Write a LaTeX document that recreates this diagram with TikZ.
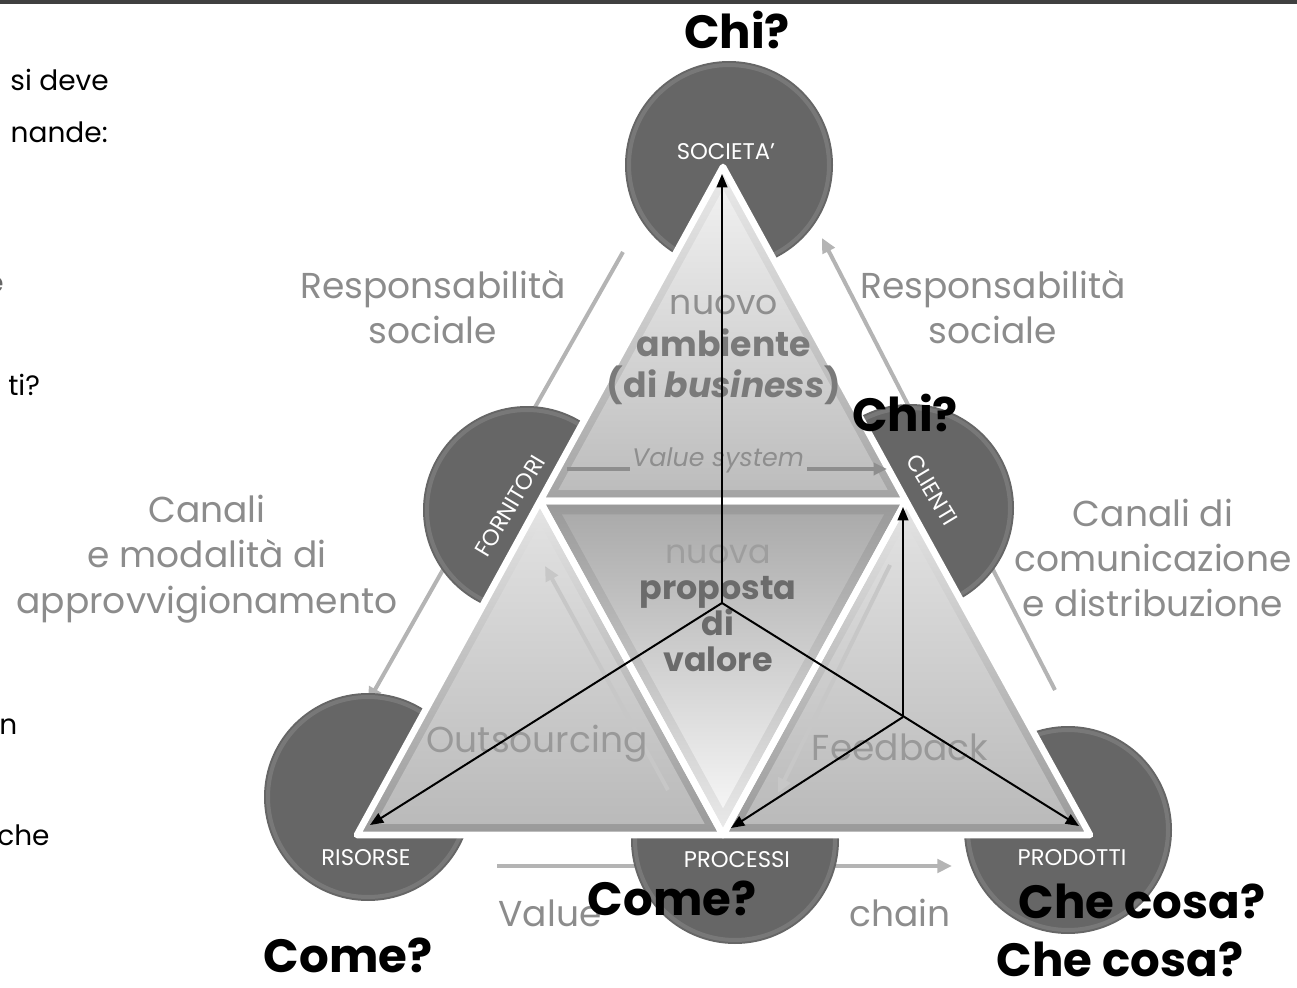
\documentclass[tikz,border=0pt]{standalone}
\usepackage{fontspec}
\setmainfont{Poppins}
\usetikzlibrary{arrows.meta}
\definecolor{discgray}{HTML}{666666}
\definecolor{lblgray}{HTML}{8C8C8C}
\definecolor{linkgray}{HTML}{B4B4B4}
\definecolor{sysgray}{HTML}{8E8E8E}
\definecolor{topbar}{HTML}{404040}
\begin{document}
\begin{tikzpicture}[x=0.75pt,y=-0.75pt,
  disc/.style={fill=discgray},
  discrim/.style={draw=white, draw opacity=0.12, line width=3pt},
  disclabel/.style={text=white, font=\fontsize{17}{20}\selectfont, inner sep=0pt},
  graylbl/.style={text=lblgray, font=\fontsize{27}{34}\selectfont, align=center, inner sep=0pt},
  innerlbl/.style={text=black!42, font=\fontsize{27}{27}\selectfont, inner sep=0pt},
  asklbl/.style={text=black, font=\fontsize{35}{40}\selectfont\bfseries, inner sep=0pt},
  sidetxt/.style={text=black, font=\fontsize{21}{24}\selectfont, inner sep=0pt},
  link/.style={draw=linkgray, line width=3pt, -{Triangle[length=11pt,width=10pt]}},
  flow/.style={draw=black, line width=1.5pt, -{Triangle[length=10pt,width=8pt]}},
  seam/.style={draw=white, line width=5pt, line join=round},
]
\clip (0,0) rectangle (1297,988);
\useasboundingbox (0,0) rectangle (1297,988);

% dark band along the top edge
\fill[topbar] (0,0) rectangle (1297,4);

% fragments of the text column on the left
\node[sidetxt, anchor=east] (q1) at (109,80) {si deve};
\node[sidetxt, anchor=east] (q2) at (108,132) {nande:};
\node[sidetxt, anchor=east, text=black!60] (q3) at (4,285) {e};
\node[sidetxt, anchor=west] (q4) at (8,385) {ti?};
\node[sidetxt, anchor=west] (q5) at (-1,727) {n};
\node[sidetxt, anchor=west] (q6) at (-3,835) {che};

% long grey links running behind the discs
\coordinate (g1s) at (623,252);
\coordinate (g1e) at (368,702);
\coordinate (g2s) at (1055,690);
\coordinate (g2e) at (822,238);
\coordinate (g3s) at (497,866);
\coordinate (g3e) at (952,866);
\draw[link] (g1s) -- (g1e);
\draw[link] (g2s) -- (g2e);
\draw[link] (g3s) -- (g3e);

% the six discs
\foreach \cx/\cy in {729/165, 527/510, 910/508, 368/797, 735/840, 1068/830}{
  \fill[disc] (\cx,\cy) circle[radius=104];
  \draw[discrim] (\cx,\cy) circle[radius=100];
}

% four triangles: outer fill, inner bevel fill, white seams
% top: nuovo ambiente
\shade[top color=black!8, bottom color=black!36] (723,167) -- (540,501) -- (906,501) -- cycle;
\shade[top color=black!6, bottom color=black!26, scale around={0.9:(723,390)}] (723,167) -- (540,501) -- (906,501) -- cycle;
% centre: nuova proposta di valore
\shade[top color=black!40, bottom color=black!8] (540,501) -- (906,501) -- (723,835) -- cycle;
\shade[top color=black!33, bottom color=black!4, scale around={0.88:(723,612)}] (540,501) -- (906,501) -- (723,835) -- cycle;
% bottom left: outsourcing
\shade[top color=black!10, bottom color=black!40] (540,501) -- (357,835) -- (723,835) -- cycle;
\shade[top color=black!12, bottom color=black!27, scale around={0.9:(540,724)}] (540,501) -- (357,835) -- (723,835) -- cycle;
% bottom right: feedback
\shade[top color=black!10, bottom color=black!40] (906,501) -- (723,835) -- (1090,835) -- cycle;
\shade[top color=black!12, bottom color=black!27, scale around={0.9:(906,724)}] (906,501) -- (723,835) -- (1090,835) -- cycle;
\draw[seam] (723,167) -- (540,501) -- (906,501) -- cycle;
\draw[seam] (540,501) -- (906,501) -- (723,835) -- cycle;
\draw[seam] (540,501) -- (357,835) -- (723,835) -- cycle;
\draw[seam] (906,501) -- (723,835) -- (1090,835) -- cycle;

% grey links inside the triangles
\coordinate (os) at (668,790);
\coordinate (oe) at (545,566);
\coordinate (fs) at (890,565);
\coordinate (fe) at (778,793);
\draw[link, draw=black!22] (os) -- (oe);
\draw[link, draw=black!22] (fs) -- (fe);
\node[text=sysgray, font=\fontsize{19}{22}\selectfont\itshape, inner sep=0pt] (vsys) at (718,460) {Value system};
\coordinate (v1) at (567,469);
\coordinate (v2) at (630,469);
\coordinate (v3) at (807,469);
\coordinate (v4) at (887,469);
\draw[draw=sysgray, line width=2.5pt] (v1) -- (v2);
\draw[draw=sysgray, line width=2.5pt, -{Triangle[length=10pt,width=9pt]}] (v3) -- (v4);

% texts inside the triangles
\node[innerlbl, align=center, font=\fontsize{26}{31}\selectfont] (amb) at (724,350)
  {\textcolor{black!44}{nuovo}\\ \textcolor{black!52}{\bfseries ambiente}\\ \textcolor{black!52}{\bfseries (di \itshape business\upshape)}};
\node[innerlbl, align=center, font=\fontsize{25}{27}\selectfont] (prop) at (718,608)
  {\textcolor{black!38}{nuova}\\ \textcolor{black!58}{\bfseries proposta}\\ \textcolor{black!58}{\bfseries di}\\ \textcolor{black!58}{\bfseries valore}};
\node[innerlbl, text=black!40] (outs) at (537,744) {Outsourcing};
\node[innerlbl, text=black!40] (feed) at (900,747) {Feedback};

% black flows from the centre to the corners
\coordinate (O) at (722,603);
\coordinate (P) at (903,717);
\coordinate (tS) at (722,174);
\coordinate (tR) at (370,825);
\coordinate (tPd) at (1079,826);
\coordinate (tC) at (903,507);
\coordinate (tPc) at (731,828);
\draw[flow] (O) -- (tS);
\draw[flow] (O) -- (tR);
\draw[flow] (O) -- (tPd);
\draw[flow] (P) -- (tC);
\draw[flow] (P) -- (tPc);

% disc labels
\node[disclabel] (soc) at (726,152) {SOCIETA’};
\node[disclabel, rotate=59] (forn) at (510,506) {FORNITORI};
\node[disclabel, rotate=-59] (cli) at (932,490) {CLIENTI};
\node[disclabel] (ris) at (366,858) {RISORSE};
\node[disclabel] (proc) at (737,860) {PROCESSI};
\node[disclabel] (prod) at (1072,858) {PRODOTTI};

% grey captions around the triangle
\node[graylbl] (rs1) at (433,307) {Responsabilità\\sociale};
\node[graylbl] (rs2) at (993,307) {Responsabilità\\sociale};
\node[graylbl] (can1) at (207,559) {Canali\\e modalità di\\approvvigionamento};
\node[graylbl] (can2) at (1153,558) {Canali di\\comunicazione\\e distribuzione};
\node[graylbl] (vc1) at (550,913) {Value};
\node[graylbl] (vc2) at (900,913) {chain};

% the questions
\node[asklbl] (k1) at (737,30) {Chi?};
\node[asklbl] (k2) at (905,413) {Chi?};
\node[asklbl] (k3) at (672,898) {Come?};
\node[asklbl] (k4) at (348,955) {Come?};
\node[asklbl] (k5) at (1142,901) {Che cosa?};
\node[asklbl] (k6) at (1120,959) {Che cosa?};
\end{tikzpicture}
\end{document}
